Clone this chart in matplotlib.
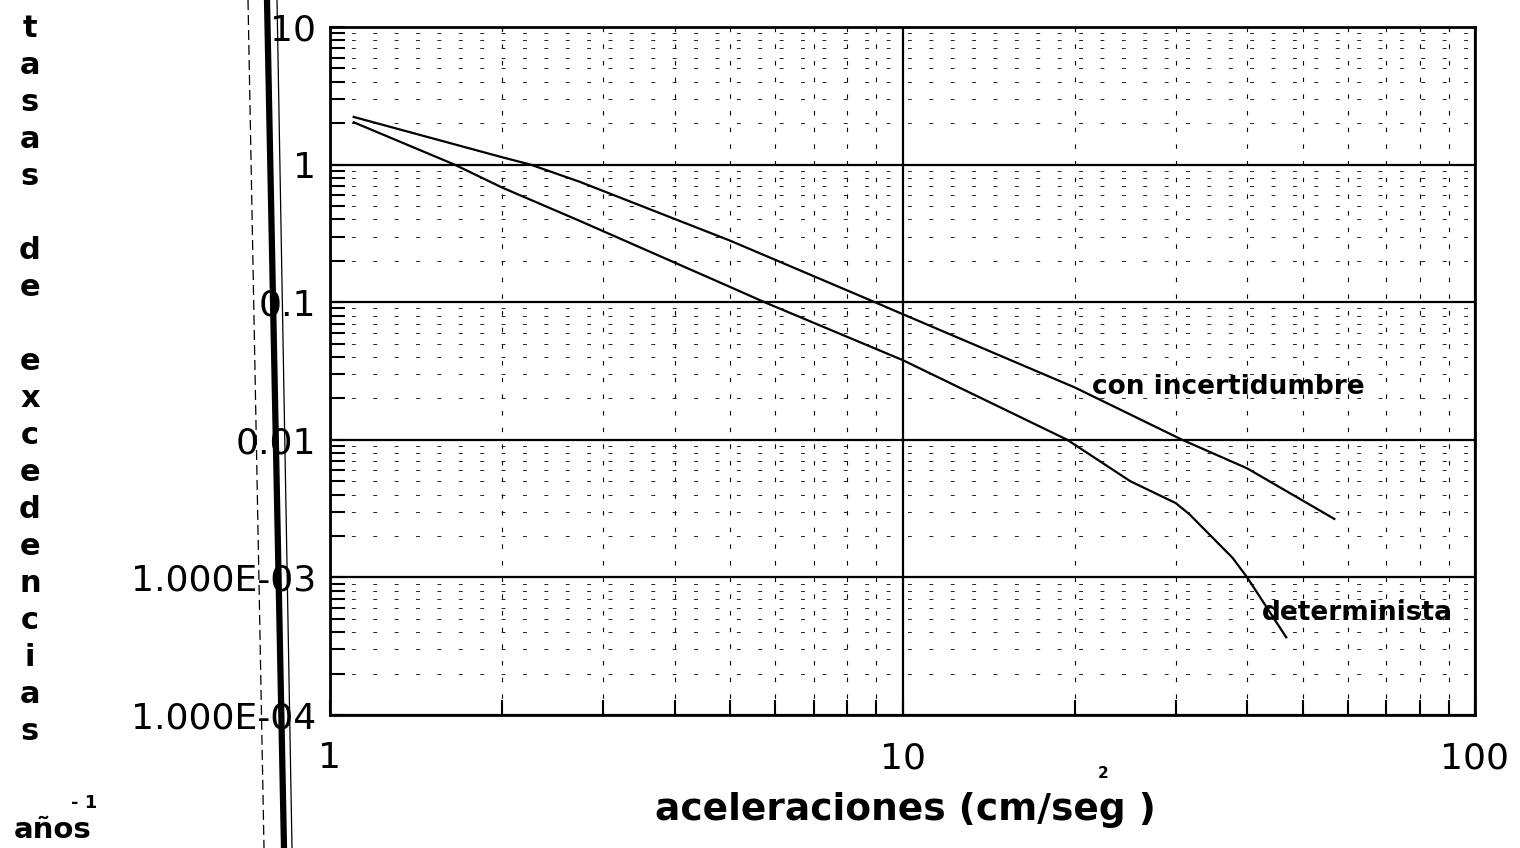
import matplotlib
matplotlib.use("Agg")
import matplotlib.pyplot as plt
from matplotlib.lines import Line2D
from matplotlib.ticker import NullFormatter, LogLocator

# ---- data ----
acc_inc = [1.1, 2.0, 2.24, 2.73, 5.0, 8.95, 10.0, 20.0, 30.8, 40.0, 49.0, 56.8]
rate_inc = [2.22, 1.13, 1.0, 0.75, 0.28, 0.10, 0.082, 0.024, 0.010, 0.0062, 0.0038, 0.00266]

acc_det = [1.1, 1.65, 2.0, 2.73, 5.0, 5.74, 10.0, 19.4, 25.0, 30.0, 31.7, 37.7, 40.0, 46.8]
rate_det = [2.03, 1.0, 0.68, 0.39, 0.129, 0.10, 0.038, 0.010, 0.005, 0.00347, 0.00288,
            0.00139, 0.0010, 0.000367]

x_ticks = [1, 10, 100]
x_ticklabels = ["1", "10", "100"]
y_ticks = [1e-4, 1e-3, 1e-2, 1e-1, 1, 10]
y_ticklabels = ["1.000E-04", "1.000E-03", "0.01", "0.1", "1", "10"]

label_inc = "con incertidumbre"
label_det = "determinista"
x_label = "aceleraciones (cm/seg )"
x_label_sup = "2"
y_letters = list("tasas") + [""] + list("de") + [""] + list("excedencias")
y_unit = "años"
y_unit_sup = "- 1"

W, H = 1520, 848


def fx(px):
    return px / W


def fy(py):
    return 1 - py / H


plt.rcParams['font.family'] = ['DejaVu Sans']

fig = plt.figure(figsize=(W / 100, H / 100), dpi=100)
fig.patch.set_facecolor('white')

L, R, T, B = 330, 1475, 27, 715
ax = fig.add_axes([fx(L), fy(B), (R - L) / W, (B - T) / H])
ax.set_xscale('log')
ax.set_yscale('log')
ax.set_xlim(1, 100)
ax.set_ylim(1e-4, 10)

ax.plot(acc_inc, rate_inc, color='black', lw=1.6, zorder=3)
ax.plot(acc_det, rate_det, color='black', lw=1.6, zorder=3)

ax.xaxis.set_minor_locator(LogLocator(base=10, subs=range(2, 10)))
ax.yaxis.set_minor_locator(LogLocator(base=10, subs=range(2, 10)))
ax.xaxis.set_minor_formatter(NullFormatter())
ax.yaxis.set_minor_formatter(NullFormatter())

ax.grid(which='major', color='black', lw=1.6, ls='-')
ax.xaxis.grid(True, which='minor', color='black', lw=0.8, ls=(0, (4, 11)))
ax.yaxis.grid(True, which='minor', color='#222222', lw=0.7, ls=(0, (4, 18)))

ax.set_xticks(x_ticks)
ax.set_xticklabels(x_ticklabels)
ax.set_yticks(y_ticks)
ax.set_yticklabels(y_ticklabels)

ax.tick_params(which='both', direction='in', top=False, right=False,
               length=11, width=1.5, color='black')
ax.tick_params(axis='x', which='major', labelsize=26, pad=19)
ax.tick_params(axis='y', which='major', labelsize=26, pad=10)

for s in ax.spines.values():
    s.set_linewidth(2)
    s.set_color('black')

# scan artefact lines (binding shadow) at the left
fig.add_artist(Line2D([fx(267), fx(284)], [1, 0], transform=fig.transFigure,
                      color='black', lw=4.5, zorder=0))
fig.add_artist(Line2D([fx(277), fx(292)], [1, 0], transform=fig.transFigure,
                      color='black', lw=0.9, zorder=0))
fig.add_artist(Line2D([fx(248), fx(264)], [1, 0], transform=fig.transFigure,
                      color='black', lw=0.9, ls=(0, (8, 4)), zorder=0))

# vertical stacked y label
for i, ch in enumerate(y_letters):
    if ch:
        fig.text(fx(30), fy(37 + 37 * i), ch, ha='center', va='baseline',
                 fontsize=22, fontweight='bold')

fig.text(fx(53), fy(838), y_unit, ha='center', va='baseline',
         fontsize=21, fontweight='bold')
fig.text(fx(84), fy(808), y_unit_sup, ha='center', va='baseline',
         fontsize=13, fontweight='bold')

fig.text(fx(905), fy(820), x_label, ha='center', va='baseline',
         fontsize=27, fontweight='bold')
fig.text(fx(1103), fy(778), x_label_sup, ha='center', va='baseline',
         fontsize=11, fontweight='bold')

fig.text(fx(1092), fy(394), label_inc, ha='left', va='baseline',
         fontsize=19, fontweight='bold')
fig.text(fx(1262), fy(620), label_det, ha='left', va='baseline',
         fontsize=19, fontweight='bold')

fig.savefig('out.png', dpi=100, facecolor='white')
